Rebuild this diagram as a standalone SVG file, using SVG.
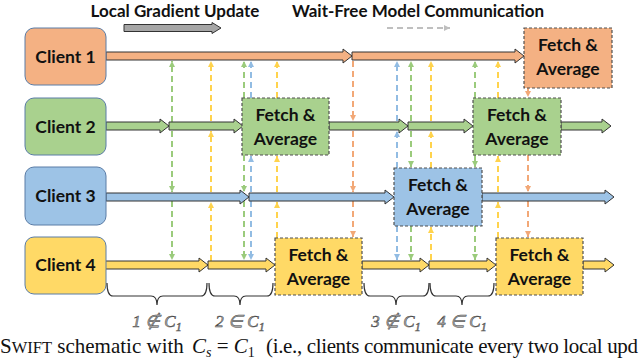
<svg xmlns="http://www.w3.org/2000/svg" width="640" height="361" viewBox="0 0 640 361">
<style>
.lbl{font-family:Lato,"Liberation Sans",sans-serif;font-weight:bold;fill:#111;text-anchor:middle}
.client{stroke:#5A7CA6;stroke-width:1}
.fetch{stroke:#505050;stroke-width:1.2;stroke-dasharray:3 2}
.blk{stroke:#333;stroke-width:1}
.d{stroke-width:2;stroke-dasharray:6 4;fill:none}
.o{fill:#F4B183}.g{fill:#A9D18E}.b{fill:#9DC3E6}.y{fill:#FFD966}
.dg{stroke:#9BCB7C;marker-end:url(#mg)}
.dy{stroke:#FFD34D;marker-end:url(#my)}
.db{stroke:#92BCE3;marker-end:url(#mb)}
.do{stroke:#F2A877;marker-end:url(#mo)}
.brace{fill:none;stroke:#333;stroke-width:1.2}
.math{font-family:"Liberation Serif",serif;font-style:italic;font-size:17px;fill:#aaa;stroke:#444;stroke-width:0.5;text-anchor:middle}
.cap{font-family:"Liberation Serif","DejaVu Serif",serif;font-size:21px;fill:#111}
</style>
<defs>
<marker id="mg" markerUnits="userSpaceOnUse" markerWidth="8" markerHeight="8" viewBox="0 0 8 8" refX="7" refY="4" orient="auto"><path d="M1,1 L7,4 L1,7 Z" fill="#9BCB7C"/></marker>
<marker id="my" markerUnits="userSpaceOnUse" markerWidth="8" markerHeight="8" viewBox="0 0 8 8" refX="7" refY="4" orient="auto"><path d="M1,1 L7,4 L1,7 Z" fill="#FFD34D"/></marker>
<marker id="mb" markerUnits="userSpaceOnUse" markerWidth="8" markerHeight="8" viewBox="0 0 8 8" refX="7" refY="4" orient="auto"><path d="M1,1 L7,4 L1,7 Z" fill="#92BCE3"/></marker>
<marker id="mo" markerUnits="userSpaceOnUse" markerWidth="8" markerHeight="8" viewBox="0 0 8 8" refX="7" refY="4" orient="auto"><path d="M1,1 L7,4 L1,7 Z" fill="#F2A877"/></marker>
<marker id="mgr" markerUnits="userSpaceOnUse" markerWidth="8" markerHeight="8" viewBox="0 0 8 8" refX="7" refY="4" orient="auto"><path d="M1,1 L7,4 L1,7 Z" fill="#BFBFBF"/></marker>
</defs>

<!-- legend -->
<g id="legend">
<text class="lbl" x="175" y="17" font-size="17">Local Gradient Update</text>
<text class="lbl" x="418" y="17" font-size="17">Wait-Free Model Communication</text>
<path class="blk" fill="#A6A6A6" d="M124,24.5 L212,24.5 L212,22.5 L221,28 L212,33.5 L212,31.5 L124,31.5 Z"/>
<line x1="387" y1="28" x2="450" y2="28" stroke="#BFBFBF" stroke-width="2" stroke-dasharray="6 4" marker-end="url(#mgr)"/>
</g>

<!-- dashed communication connectors -->
<g id="connectors">
<line class="d dg" x1="172" y1="122" x2="172" y2="61"/>
<line class="d dg" x1="172" y1="131" x2="172" y2="192"/>
<line class="d dg" x1="172" y1="201" x2="172" y2="260"/>

<line class="d dy" x1="211" y1="261" x2="211" y2="202"/>
<line class="d dy" x1="211" y1="192" x2="211" y2="131"/>
<line class="d dy" x1="211" y1="121" x2="211" y2="61"/>

<line class="d dg" x1="244" y1="98" x2="244" y2="61"/>
<line class="d dg" x1="244" y1="155" x2="244" y2="192"/>
<line class="d dg" x1="244" y1="201" x2="244" y2="260"/>

<line class="d db" x1="251" y1="98" x2="251" y2="61"/>
<line class="d db" x1="251" y1="192" x2="251" y2="156"/>
<line class="d db" x1="251" y1="201" x2="251" y2="260"/>

<line class="d dy" x1="277" y1="238" x2="277" y2="202"/>
<line class="d dy" x1="277" y1="192" x2="277" y2="156"/>
<line class="d dy" x1="277" y1="98" x2="277" y2="61"/>

<line class="d do" x1="353" y1="61" x2="353" y2="121"/>
<line class="d do" x1="353" y1="131" x2="353" y2="192"/>
<line class="d do" x1="353" y1="201" x2="353" y2="237"/>

<line class="d db" x1="397" y1="168" x2="397" y2="131"/>
<line class="d db" x1="397" y1="121" x2="397" y2="61"/>
<line class="d db" x1="397" y1="226" x2="397" y2="260"/>

<line class="d dg" x1="411" y1="121" x2="411" y2="61"/>
<line class="d dg" x1="411" y1="131" x2="411" y2="167"/>
<line class="d dg" x1="411" y1="226" x2="411" y2="260"/>

<line class="d dy" x1="431" y1="260" x2="431" y2="227"/>
<line class="d dy" x1="431" y1="168" x2="431" y2="131"/>
<line class="d dy" x1="431" y1="121" x2="431" y2="61"/>

<line class="d dg" x1="475" y1="98" x2="475" y2="61"/>
<line class="d dg" x1="475" y1="155" x2="475" y2="167"/>
<line class="d dg" x1="475" y1="226" x2="475" y2="260"/>

<line class="d dy" x1="498" y1="238" x2="498" y2="202"/>
<line class="d dy" x1="498" y1="192" x2="498" y2="156"/>
<line class="d dy" x1="498" y1="98" x2="498" y2="61"/>

<line class="d do" x1="528" y1="88" x2="528" y2="97"/>
<line class="d do" x1="528" y1="155" x2="528" y2="192"/>
<line class="d do" x1="528" y1="201" x2="528" y2="237"/>
</g>

<!-- local update block arrows -->
<g id="timelines">
<path class="blk o" d="M106,52 L343,52 L343,49 L352,56 L343,63 L343,60 L106,60 Z"/>
<path class="blk o" d="M352,52 L515,52 L515,49 L524,56 L515,63 L515,60 L352,60 Z"/>

<path class="blk g" d="M106,122 L160,122 L160,119 L169,126 L160,133 L160,130 L106,130 Z"/>
<path class="blk g" d="M169,122 L234,122 L234,119 L243,126 L234,133 L234,130 L169,130 Z"/>
<path class="blk g" d="M329,122 L399,122 L399,119 L408,126 L399,133 L399,130 L329,130 Z"/>
<path class="blk g" d="M408,122 L464,122 L464,119 L473,126 L464,133 L464,130 L408,130 Z"/>
<path class="blk g" d="M561,122 L602,122 L602,119 L611,126 L602,133 L602,130 L561,130 Z"/>

<path class="blk b" d="M106,193 L240,193 L240,190 L249,197 L240,204 L240,201 L106,201 Z"/>
<path class="blk b" d="M249,193 L385,193 L385,190 L394,197 L385,204 L385,201 L249,201 Z"/>
<path class="blk b" d="M482,193 L605,193 L605,190 L614,197 L605,204 L605,201 L482,201 Z"/>

<path class="blk y" d="M105,261 L199,261 L199,258 L208,265 L199,272 L199,269 L105,269 Z"/>
<path class="blk y" d="M208,261 L266,261 L266,258 L275,265 L266,272 L266,269 L208,269 Z"/>
<path class="blk y" d="M362,261 L420,261 L420,258 L429,265 L420,272 L420,269 L362,269 Z"/>
<path class="blk y" d="M429,261 L487,261 L487,258 L496,265 L487,272 L487,269 L429,269 Z"/>
<path class="blk y" d="M583,261 L605,261 L605,258 L614,265 L605,272 L605,269 L583,269 Z"/>
</g>

<!-- clients -->
<g id="client1"><rect class="client o" x="25" y="28" width="81" height="57" rx="9"/><text class="lbl" x="65.5" y="63" font-size="17.5">Client 1</text></g>
<g id="client2"><rect class="client g" x="25" y="98" width="81" height="57" rx="9"/><text class="lbl" x="65.5" y="133" font-size="17.5">Client 2</text></g>
<g id="client3"><rect class="client b" x="25" y="167" width="81" height="58" rx="9"/><text class="lbl" x="65.5" y="202" font-size="17.5">Client 3</text></g>
<g id="client4"><rect class="client y" x="25" y="237" width="81" height="57" rx="9"/><text class="lbl" x="65.5" y="271" font-size="17.5">Client 4</text></g>

<!-- fetch & average -->
<g id="fetch1"><rect class="fetch o" x="524" y="28" width="88" height="60"/><text class="lbl" x="568" y="51" font-size="17.5">Fetch &amp;</text><text class="lbl" x="568" y="75" font-size="17.5">Average</text></g>
<g id="fetch2a"><rect class="fetch g" x="242" y="98" width="87" height="57"/><text class="lbl" x="285.5" y="121" font-size="17.5">Fetch &amp;</text><text class="lbl" x="285.5" y="145" font-size="17.5">Average</text></g>
<g id="fetch2b"><rect class="fetch g" x="473" y="98" width="88" height="57"/><text class="lbl" x="517" y="121" font-size="17.5">Fetch &amp;</text><text class="lbl" x="517" y="145" font-size="17.5">Average</text></g>
<g id="fetch3"><rect class="fetch b" x="394" y="168" width="88" height="58"/><text class="lbl" x="438" y="191" font-size="17.5">Fetch &amp;</text><text class="lbl" x="438" y="215" font-size="17.5">Average</text></g>
<g id="fetch4a"><rect class="fetch y" x="275" y="238" width="87" height="57"/><text class="lbl" x="318.5" y="261" font-size="17.5">Fetch &amp;</text><text class="lbl" x="318.5" y="285" font-size="17.5">Average</text></g>
<g id="fetch4b"><rect class="fetch y" x="496" y="238" width="87" height="57"/><text class="lbl" x="539.5" y="261" font-size="17.5">Fetch &amp;</text><text class="lbl" x="539.5" y="285" font-size="17.5">Average</text></g>

<!-- braces -->
<g id="braces">
<path class="brace" d="M107,283 Q107,296 113,296 L151,296 Q157,296 157,305 Q157,296 163,296 L201,296 Q207,296 207,283"/>
<path class="brace" d="M209,283 Q209,296 215,296 L234,296 Q240,296 240,305 Q240,296 246,296 L267,296 Q273,296 273,283"/>
<path class="brace" d="M364,283 Q364,296 370,296 L390,296 Q396,296 396,305 Q396,296 402,296 L423,296 Q429,296 429,283"/>
<path class="brace" d="M430,283 Q430,296 436,296 L456,296 Q462,296 462,305 Q462,296 468,296 L488,296 Q494,296 494,283"/>
<text class="math" x="157" y="327">1 ∉ C<tspan font-size="12" dy="4">1</tspan></text>
<text class="math" x="240" y="327">2 ∈ C<tspan font-size="12" dy="4">1</tspan></text>
<text class="math" x="396" y="327">3 ∉ C<tspan font-size="12" dy="4">1</tspan></text>
<text class="math" x="462" y="327">4 ∈ C<tspan font-size="12" dy="4">1</tspan></text>
</g>

<g id="caption">
<text class="cap" x="0" y="353">S<tspan font-size="16.5">WIFT</tspan> schematic with</text>
<text class="cap" x="192" y="353"><tspan font-style="italic">C</tspan><tspan font-size="14" font-style="italic" dy="4">s</tspan><tspan dy="-4"> = </tspan><tspan font-style="italic">C</tspan><tspan font-size="14" dy="4">1</tspan></text>
<text class="cap" x="266" y="353" textLength="372" lengthAdjust="spacing">(i.e., clients communicate every two local upd</text>
</g>
</svg>
